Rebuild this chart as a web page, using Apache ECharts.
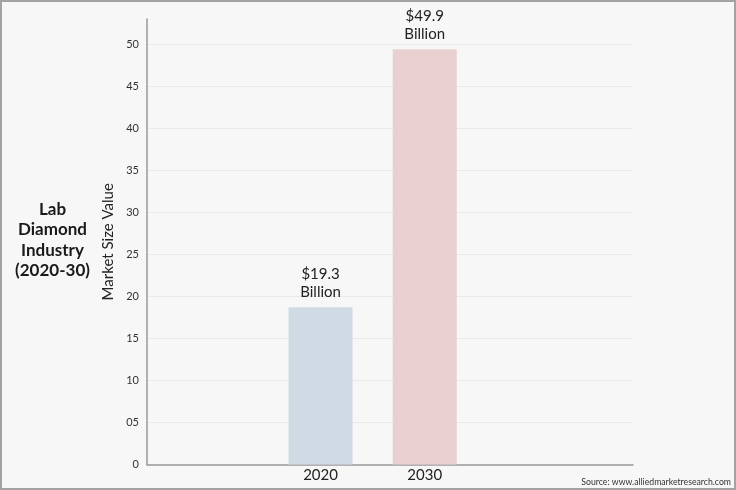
<!DOCTYPE html>
<html>
<head>
<meta charset="utf-8">
<script src="https://cdn.jsdelivr.net/npm/echarts@6/dist/echarts.min.js"></script>
<style>
html,body{margin:0;padding:0;background:#fff;}
#frame{width:736px;height:490px;box-sizing:border-box;border:2px solid #a3a3a3;background:#f7f7f7;position:relative;}
#chart{position:absolute;left:-2px;top:-2px;width:736px;height:490px;}
</style>
</head>
<body>
<div id="frame"><div id="chart"></div></div>
<script>
const categories = ['2020', '2030'];
const values = [18.7, 49.4];
const valueLabels = ['$19.3\nBillion', '$49.9\nBillion'];
const barColors = ['#cfdae5', '#e8cfd0'];
const yTicks = [0, 5, 10, 15, 20, 25, 30, 35, 40, 45, 50];
const yTickLabels = ['0', '05', '10', '15', '20', '25', '30', '35', '40', '45', '50'];
const titleLines = ['Lab', 'Diamond', 'Industry', '(2020-30)'];
const yAxisName = 'Market Size Value';
const sourceText = 'Source: www.alliedmarketresearch.com';

// category slots on axis (categories placed at slots 5 and 8 of 15)
const slotCount = 15;
const slotIndex = [5, 8];
const axisCats = new Array(slotCount).fill('');
slotIndex.forEach((s, i) => { axisCats[s] = categories[i]; });
const seriesData = new Array(slotCount).fill(null);
slotIndex.forEach((s, i) => {
  seriesData[s] = {
    value: values[i],
    itemStyle: { color: barColors[i] },
    label: { formatter: valueLabels[i] }
  };
});

const chart = echarts.init(document.getElementById('chart'), null, { renderer: 'canvas' });
const gridColors = yTicks.map(() => '#e9e9e9').concat(['rgba(0,0,0,0)']);
chart.setOption({
  backgroundColor: 'transparent',
  textStyle: { fontFamily: 'Lato' },
  animation: false,
  title: {
    text: titleLines.join('\n'),
    left: 52.5,
    top: 199,
    padding: 0,
    textAlign: 'center',
    textStyle: { fontFamily: 'Lato', fontSize: 17, fontWeight: 'bold', color: '#1a1a1a', lineHeight: 20.5 }
  },
  graphic: [{
    type: 'text',
    right: 5,
    bottom: 3,
    style: { text: sourceText, fontFamily: 'Lato', fontSize: 8.7, fill: '#333' }
  }],
  grid: { left: 147, right: 103, top: 19, bottom: 25.5, containLabel: false },
  xAxis: {
    type: 'category',
    data: axisCats,
    boundaryGap: false,
    axisLine: { lineStyle: { color: '#9a9a9a', width: 1.5 } },
    axisTick: { show: false },
    axisLabel: { interval: 0, color: '#222', fontSize: 15, margin: 3, fontFamily: 'Lato' },
    splitLine: { show: false }
  },
  yAxis: {
    type: 'value',
    min: 0,
    max: 53,
    interval: 5,
    name: yAxisName,
    nameLocation: 'middle',
    nameGap: 28,
    nameTextStyle: { fontSize: 15, color: '#222', fontFamily: 'Lato' },
    axisLine: { show: true, lineStyle: { color: '#9a9a9a', width: 1.5 } },
    axisTick: { show: false },
    axisLabel: {
      color: '#333', fontSize: 11, margin: 8, fontFamily: 'Lato',
      formatter: v => { const i = yTicks.indexOf(v); return i >= 0 ? yTickLabels[i] : ''; }
    },
    splitLine: { show: true, lineStyle: { color: gridColors, width: 1 } }
  },
  series: [{
    type: 'bar',
    data: seriesData,
    barWidth: 64,
    label: {
      show: true,
      position: 'top',
      distance: 6,
      color: '#222',
      fontSize: 15,
      lineHeight: 18,
      align: 'center',
      fontFamily: 'Lato'
    }
  }]
});
</script>
</body>
</html>
